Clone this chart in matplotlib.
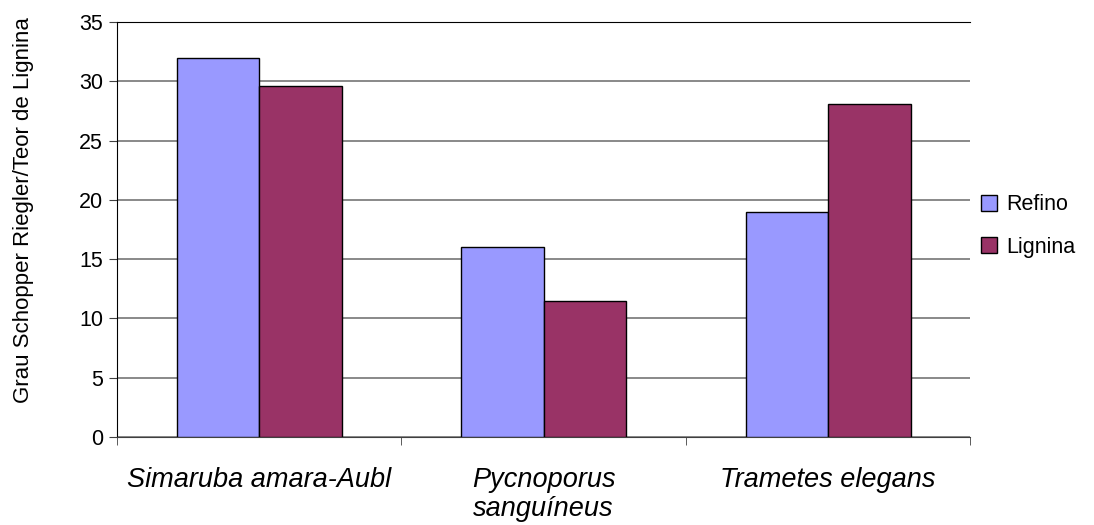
import numpy as np
import matplotlib.pyplot as plt
from matplotlib.ticker import FixedLocator

# dados
categorias = ['Simaruba amara-Aubl', 'Pycnoporus\nsanguíneus', 'Trametes elegans']
refino = [32, 16, 19]
lignina = [29.6, 11.5, 28.1]
series = ['Refino', 'Lignina']
cores = ['#9999FF', '#993366']

plt.rcParams['font.family'] = ['Liberation Sans', 'DejaVu Sans']

fig = plt.figure(figsize=(10.94, 5.25), dpi=100)
ax = fig.add_axes([0.107, 0.168, 0.78, 0.79])

x = np.arange(len(categorias))
w = 0.29
ax.bar(x - w / 2, refino, w, color=cores[0], edgecolor='black', linewidth=1, label=series[0], zorder=3)
ax.bar(x + w / 2, lignina, w, color=cores[1], edgecolor='black', linewidth=1, label=series[1], zorder=3)

ax.set_xlim(-0.5, 2.5)
ax.set_ylim(0, 35)
ax.set_yticks(range(0, 36, 5))
ax.yaxis.grid(True, color='#808080', linewidth=1.3, zorder=0)

# rótulos no centro, marcas nas divisões
ax.set_xticks(x)
ax.set_xticklabels(categorias, fontsize=19.5, style='italic', linespacing=1.15)
ax.tick_params(axis='x', which='major', length=0, pad=22)
ax.xaxis.set_minor_locator(FixedLocator([-0.5, 0.5, 1.5, 2.5]))
ax.tick_params(axis='x', which='minor', length=6, color='#404040')
ax.tick_params(axis='y', labelsize=15.5, length=6, color='#404040', pad=4)

ax.spines['right'].set_visible(False)
ax.spines['top'].set_color('black')
ax.spines['bottom'].set_color('#404040')

ax.set_ylabel('Grau Schopper Riegler/Teor de Lignina', fontsize=16)
ax.yaxis.set_label_coords(-0.097, 0.547)

ax.legend(loc='center left', bbox_to_anchor=(0.99, 0.508), frameon=False, fontsize=15.5,
          handlelength=0.75, handleheight=0.75, handletextpad=0.4, labelspacing=1.0)

fig.savefig('out.png', dpi=100)
